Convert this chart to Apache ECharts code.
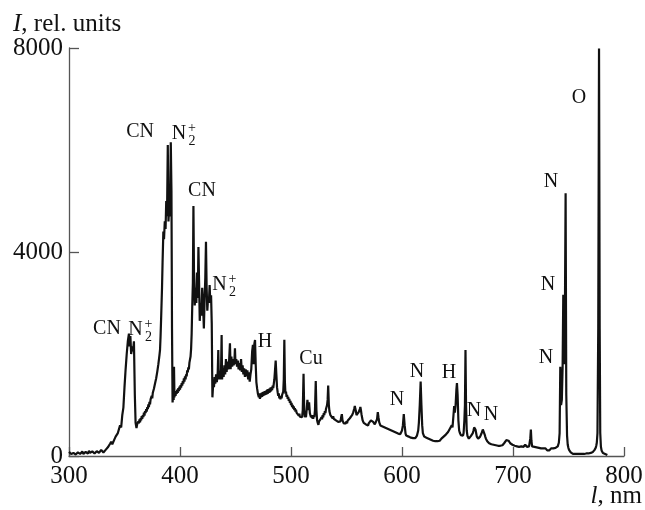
<!DOCTYPE html>
<html><head><meta charset="utf-8">
<script src="https://cdn.jsdelivr.net/npm/echarts@6/dist/echarts.min.js"></script>
<style>html,body{margin:0;padding:0;background:#fff}#c{width:645px;height:510px}</style>
</head><body><div id="c"></div>
<script>
// Spectrum: [wavelength nm, intensity rel. units]
const spectrum = [
[300,80],[301,50],[302,40],[303,70],[304,60],[305,35],[306,30],[307,60],[308,70],[309,45],[310,40],[311,75],[312,90],[313,40],[314,50],[315,80],[316,60],[317,45],[318,100],[319,60],[320,50],[321,90],[322,80],[323,50],[324,60],[325,95],[326,100],[327,60],[328,70],[329,120],[330,110],[331,70],[332,80],[333,120],[334,130],
[335,170],[336,200],[337,240],[338,280],[339,230],[340,260],[341,330],[342,380],[343,350],[344,450],[345,420],[346,600],[347,560],[348,800],[349,950],[350,1350],[351,1700],[352,2000],[353,2250],[354,2400],[354.6,2150],[355.3,2350],[356,2000],[357,2150],[357.7,2050],[358.5,2250],[359.3,1200],[360,650],[360.8,550],[361.4,620],
[362,600],[362.5,680],[363,640],[363.5,720],[364,660],[364.5,740],[365,700],[365.5,780],[366,730],[366.5,800],[367,760],[367.5,850],[368,790],[368.5,880],[369,840],[369.5,920],[370,870],[370.5,960],[371,920],[371.5,1010],[372,960],[372.5,1060],[373,1010],[373.5,1110],[374,1080],[374.5,1180],[375,1130],[375.5,1240],[376,1220],[376.5,1320],[377,1300],[377.5,1420],[378,1400],[378.5,1520],[379,1500],[379.5,1650],[380,1640],[380.5,1800],[381,1820],[381.5,1980],[382,2080],[382.5,2350],[383,2700],
[383.8,3300],[384.3,3800],[385,4400],[385.6,4250],[386.3,4600],[387,4450],[387.6,5000],[388.3,4700],[389,6100],[389.6,4600],[390.3,4900],[391,4700],[391.7,6150],[392.3,5200],[392.8,2500],[393.3,1050],
[393.8,1150],[394.3,1100],[394.6,1750],[395,1150],[395.5,1250],[396,1180],[396.5,1270],[397,1220],[397.5,1300],[398,1240],[398.5,1330],[399,1270],[399.5,1360],[400,1300],[400.5,1390],[401,1340],[401.5,1430],[402,1380],[402.5,1470],[403,1420],[403.5,1520],[404,1460],[404.5,1560],[405,1500],[405.5,1600],[406,1560],[406.5,1680],[407,1640],[407.5,1740],[408,1700],[408.5,1830],[409,1800],[409.5,1950],[410,2100],[410.5,2400],[411,2900],
[411.6,3400],[412.1,4900],[412.6,3600],[413.3,2950],[414,3300],[414.7,3000],[415.3,3600],[416,3100],[416.6,4100],[417.2,3400],[417.8,2650],[418.5,3000],[419.2,2750],[420,3300],[420.7,3000],[421.5,2500],[422.2,3100],[422.8,3500],[423.4,4200],[424,3300],[424.6,2850],[425.3,3100],[426,3000],[426.7,3350],[427.3,3000],[428,3150],[428.6,2600],[429.2,1150],
[430,1450],[430.6,1350],[431.2,1550],[431.8,1420],[432.5,1600],[433.2,1450],[434,1650],[434.5,2080],[435,1500],[435.6,1650],[436.3,1500],[437,1700],[437.5,2370],[437.9,1500],[438.6,1720],[439.3,1550],[440,1780],[440.7,1600],[441.4,1900],[442,1650],[442.8,1850],[443.5,1700],[444.2,1850],[445,2210],[445.6,1700],[446.3,1950],[447,1750],[447.7,1900],[448.3,1780],[449,1850],[449.5,2110],[450,1800],[450.7,1900],[451.4,1750],[452.1,1870],[452.8,1700],[453.5,1820],[454.2,1680],[455,1900],[455.7,1650],[456.4,1780],[457.1,1600],[457.8,1720],[458.5,1550],[459.2,1700],[460,1560],[460.7,1680],[461.4,1500],[462.1,1640],[462.8,1460],[463.5,1600],[464.2,1700],[465,2050],[465.7,2180],[466.3,1800],[467,2200],[467.6,2275],[468.2,1800],[468.8,1450],[469.5,1320],[470.2,1220],
[471,1150],[471.5,1230],[472,1120],[472.5,1200],[473,1150],[473.5,1240],[474,1160],[474.5,1250],[475,1180],[475.5,1260],[476,1190],[476.5,1270],[477,1200],[477.5,1280],[478,1210],[478.5,1300],[479,1220],[479.5,1310],[480,1240],[480.5,1320],[481,1250],[481.5,1340],[482,1270],[482.5,1350],[483,1290],[483.5,1380],[484,1330],[484.5,1420],[485,1500],[485.5,1650],[486.2,1870],[486.8,1600],[487.4,1350],[488,1250],[488.5,1180],[489,1230],[489.5,1130],[490,1180],[490.5,1110],[491,1170],[491.5,1130],[492,1200],[492.5,1180],[493,1260],[493.5,1500],[494,2280],[494.5,1450],[495,1220],[495.5,1260],[496,1160],[496.5,1200],[497,1120],[497.5,1160],[498,1080],[498.5,1120],[499,1040],[499.5,1080],[500,1000],[500.5,1040],[501,960],[501.5,1000],[502,930],[502.5,970],[503,900],[503.5,940],[504,870],[504.5,910],[505,850],[505.5,880],[506,820],[506.5,860],[507,790],[507.5,830],[508,770],[508.5,800],[509,740],[509.5,780],[510,760],[510.6,900],[511.3,1610],[511.9,900],[512.5,760],
[513,800],[513.5,760],[514,880],[514.8,1100],[515.5,900],[516.3,1050],[517,840],[517.5,800],[518,760],[518.5,800],[519,740],[519.5,790],[520,730],[520.5,800],[521,760],[521.6,900],[522.3,1470],[522.9,900],[523.5,700],[524.1,650],[524.7,610],[525.3,680],[526,650],[526.5,720],[527,690],[527.5,760],[528,720],[528.5,800],[529,760],[529.5,840],[530,800],[530.5,880],[531,840],[531.5,920],[532,900],[532.5,1000],[533,1100],[533.5,1380],[534.1,1000],[534.6,880],[535,850],[535.5,800],[536,830],[536.5,770],[537,800],[537.5,740],[538,780],[538.5,730],[539,760],[539.5,720],[540,750],[540.5,700],[541,730],[541.5,680],[542,710],[542.5,670],[543,690],[543.5,650],[544,700],[544.6,680],[545.2,760],[545.8,820],[546.4,700],[547,680],[547.5,640],[548,670],[548.5,620],[549,660],[549.5,640],[550,680],[550.5,640],[551,690],[551.5,660],[552,710],[552.5,690],[553,740],[553.5,720],[554,770],[554.5,750],[555,800],[555.5,790],[556,850],[556.5,880],[557,930],[557.5,980],[558,920],[558.5,880],[559,800],[559.5,770],[560,820],[560.5,800],[561,860],[561.5,880],[562,920],[562.5,960],[563,900],[563.5,820],[564,760],[564.5,700],[565,690],[565.5,650],[566,670],[566.5,630],[567,660],[567.5,620],[568,650],[568.5,610],[569,640],[569.5,600],[570,640],[570.5,620],[571,660],[571.5,650],[572,700],[572.5,680],[573,720],[573.5,700],[574,670],[574.5,640],[575,660],[575.5,620],[576,640],[576.5,600],[577,650],[577.5,720],[578.2,860],[578.8,760],[579.5,660],[580,640],
[580.5,600],[581,630],[581.5,590],[582,620],[582.5,580],[583,610],[583.5,570],[584,600],[584.5,560],[585,590],[585.5,550],[586,580],[586.5,540],[587,570],[587.5,530],[588,560],[588.5,520],[589,550],[589.5,510],[590,540],[590.5,500],[591,530],[591.5,490],[592,520],[592.5,480],[593,510],[593.5,470],[594,500],[594.5,460],[595,490],[595.5,450],[596,480],[596.5,440],[597,470],[597.5,440],[598,460],[598.5,430],[599,460],[599.5,450],[600,500],[600.8,600],[601.6,820],[602.4,600],[603.2,440],[603.8,400],[604.4,430],[605,390],[605.5,420],[606,380],[606.5,410],[607,370],[607.5,400],[608,360],[608.5,390],[609,360],[609.5,390],[610,350],[610.5,380],[611,350],[611.5,380],[612,350],[612.5,380],[613,360],[613.5,400],[614,420],[614.6,500],[615.2,650],[616,1000],[616.8,1460],[617.5,1000],[618.2,600],[618.8,450],[619.4,420],[620,380],[620.5,410],[621,370],[621.5,400],[622,360],[622.5,390],[623,350],[623.5,380],[624,340],[624.5,370],[625,330],[625.5,360],[626,320],[626.5,350],[627,310],[627.5,340],[628,300],[628.5,330],[629,300],[629.5,330],[630,290],[630.5,320],[631,290],[631.5,320],[632,290],[632.5,320],[633,290],[633.5,320],[634,300],[634.5,330],[635,310],[635.5,340],[636,320],[636.5,360],[637,340],[637.5,380],[638,360],[638.5,400],[639,380],[639.5,420],[640,400],[640.5,440],[641,420],[641.5,470],[642,450],[642.5,510],[643,490],[643.5,540],[644,520],[644.8,600],[645.5,560],[646.3,780],[647,980],[647.6,850],[648.3,1000],[649,1300],[649.5,1430],[650.1,1200],[650.8,700],[651.5,500],[652,460],[652.5,430],[653,410],[653.5,390],[654,410],[654.5,380],[655,400],[655.5,450],[656.2,700],[656.7,1000],[657.2,2080],[657.7,1000],[658.3,500],[659,390],[659.6,360],[660.2,340],[660.8,370],[661.4,350],[662,390],[662.6,380],[663.2,420],[663.8,450],[664.4,500],[665,560],[665.6,580],[666.2,520],[666.8,450],[667.4,380],[668,350],[668.6,340],[669.2,360],[669.8,350],[670.4,380],[671,400],[671.6,440],[672.2,480],[672.8,520],[673.3,540],[673.9,490],[674.5,420],[675,380],[675.6,340],[676.2,310],[676.8,290],[677.4,270],[678,280],[678.5,250],[679,270],[679.5,240],[680,260],[680.5,230],[681,250],[681.5,230],[682,250],[682.5,220],[683,240],[683.5,210],[684,240],[684.5,210],[685,230],[685.5,200],[686,230],[686.5,200],[687,220],[687.5,190],[688,220],[688.5,200],[689,230],[689.5,200],[690,230],[690.5,210],[691,240],[691.5,220],[692,250],[692.5,240],[693,270],[693.5,280],[694,310],[694.5,290],[695,320],[695.5,280],[696,300],[696.5,270],[697,290],[697.5,250],[698,260],[698.5,230],[699,250],[699.5,220],[700,240],[700.5,210],[701,230],[701.5,200],[702,220],[702.5,190],[703,220],[703.5,190],[704,210],[704.5,180],[705,210],[705.5,180],[706,200],[706.5,180],[707,210],[707.5,190],[708,220],[708.5,190],[709,210],[709.5,180],[710,210],[710.5,190],[711,220],[711.5,190],[712,210],[712.5,180],[713,200],[713.5,180],[714,200],[714.5,190],[715,220],[715.6,350],[716.1,520],[716.6,300],[717.2,190],[717.8,170],[718.3,190],[718.8,160],[719.3,180],[719.8,150],[720.3,170],[720.8,150],[721.3,170],[721.8,140],[722.3,160],[722.8,140],[723.3,160],[723.8,130],[724.3,150],[724.8,130],[725.3,150],[725.8,120],[726.3,150],[726.8,130],[727.3,150],[727.8,120],[728.3,140],[728.8,120],[729.3,150],[729.8,120],[730.3,140],[730.8,110],[731.3,140],[731.8,120],[732.3,140],[732.8,110],[733.3,140],[733.8,120],[734.3,150],[734.8,120],[735.3,140],[735.8,130],[736.3,150],[736.8,130],[737.3,160],[737.8,140],[738.3,160],[738.8,150],[739.3,170],[739.8,160],[740.3,190],[740.8,220],[741.3,260],[742,450],[742.6,1750],[743.3,1000],[744,1100],[744.7,1750],[745.3,3160],[746,1800],[746.6,2200],[747.4,5150],[748,1200],[748.7,400],[749.3,220],[749.9,160],[750.5,120],[751,90],[751.5,110],[752,70],[752.5,90],[753,50],[753.5,70],[754,40],[754.5,60],[755,40],[755.5,70],[756,40],[756.5,60],[757,30],[757.5,60],[758,40],[758.5,60],[759,30],[759.5,60],[760,40],[760.5,60],[761,30],[761.5,60],[762,40],[762.5,60],[763,40],[763.5,70],[764,40],[764.5,60],[765,40],[765.5,70],[766,50],[766.5,70],[767,40],[767.5,60],[768,50],[768.5,70],[769,50],[769.5,70],[770,60],[770.5,80],[771,60],[771.5,90],[772,80],[772.5,100],[773,100],[773.5,120],[774,140],[774.5,160],[775,200],[775.5,260],[776.1,450],[776.8,2500],[777.5,7990],[778.1,2500],[778.6,450],[779.2,180],[779.8,110],[780.4,90],[781,60],[781.5,70],[782,40],[782.5,60],[783,40],[783.5,50],[784,30],[784.5,40],[785,20]
];
const xTicks = [300, 400, 500, 600, 700, 800];
const yTicks = [0, 4000, 8000];
// Species labels: text, anchor wavelength, anchor intensity (label centre)
const speciesLabels = [
  ['CN', 364.0, 6353], ['CN', 419.8, 5196], ['CN', 334.2, 2490],
  ['H', 476.6, 2235], ['Cu', 518.0, 1902],
  ['N', 595.5, 1098], ['N', 613.5, 1647], ['H', 642.3, 1627], ['N', 664.9, 882], ['N', 680.2, 804],
  ['N', 734.2, 5373], ['N', 731.5, 3353], ['N', 729.7, 1922], ['O', 759.5, 7020]
];
// N2+ labels: anchor of the "N"
const ionLabels = [[399.1, 6324], [435.6, 3363], [359.9, 2480]];

const FONT = "'Liberation Serif','DejaVu Serif',serif";
const chart = echarts.init(document.getElementById('c'), null, {renderer: 'canvas'});
chart.setOption({
  animation: false,
  backgroundColor: '#fff',
  grid: {left: 69, right: 21, top: 48, bottom: 54, outerBoundsMode: 'none'},
  xAxis: {
    type: 'value', min: xTicks[0], max: xTicks[xTicks.length - 1], interval: 100,
    axisLine: {show: true, lineStyle: {color: '#555', width: 1.3}},
    axisTick: {show: true, inside: true, length: 9, lineStyle: {color: '#555', width: 1.3}},
    axisLabel: {color: '#111', fontFamily: FONT, fontSize: 25, margin: 8, formatter: function (v) { return String(v); }},
    splitLine: {show: false}
  },
  yAxis: {
    type: 'value', min: yTicks[0], max: yTicks[yTicks.length - 1], interval: 4000,
    axisLine: {show: true, lineStyle: {color: '#555', width: 1.3}},
    axisTick: {show: true, inside: true, length: 10, lineStyle: {color: '#555', width: 1.3}},
    axisLabel: {color: '#111', fontFamily: FONT, fontSize: 25, margin: 6, formatter: function (v) { return String(v); }},
    splitLine: {show: false}
  },
  series: [{
    type: 'line', data: spectrum, showSymbol: false, symbol: 'none',
    lineStyle: {color: '#111', width: 2.2}, z: 2
  }]
});

const g = [];
function txt(x, y, text, size, style) {
  g.push({type: 'text', x: x, y: y, silent: true, z: 10,
    style: {text: text, fontFamily: FONT, fontSize: size, fontStyle: style || 'normal', fill: '#111', align: 'center', verticalAlign: 'middle'}});
}
speciesLabels.forEach(function (l) {
  const p = chart.convertToPixel({xAxisIndex: 0, yAxisIndex: 0}, [l[1], l[2]]);
  txt(p[0], p[1], l[0], 20);
});
ionLabels.forEach(function (l) {
  const p = chart.convertToPixel({xAxisIndex: 0, yAxisIndex: 0}, [l[0], l[1]]);
  txt(p[0], p[1], 'N', 20);
  txt(p[0] + 13, p[1] - 5, '+', 14);
  txt(p[0] + 13, p[1] + 8, '2', 14);
});
// axis titles
g.push({type: 'text', left: 13, top: 12, silent: true,
  style: {text: '{i|I}, rel. units', fontFamily: FONT, fontSize: 25, fill: '#111',
    rich: {i: {fontStyle: 'italic', fontFamily: FONT, fontSize: 25, fill: '#111'}}}});
g.push({type: 'text', right: 3, top: 484, silent: true,
  style: {text: '{i|l}, nm', fontFamily: FONT, fontSize: 25, fill: '#111',
    rich: {i: {fontStyle: 'italic', fontFamily: FONT, fontSize: 25, fill: '#111'}}}});
chart.setOption({graphic: g});
</script></body></html>
